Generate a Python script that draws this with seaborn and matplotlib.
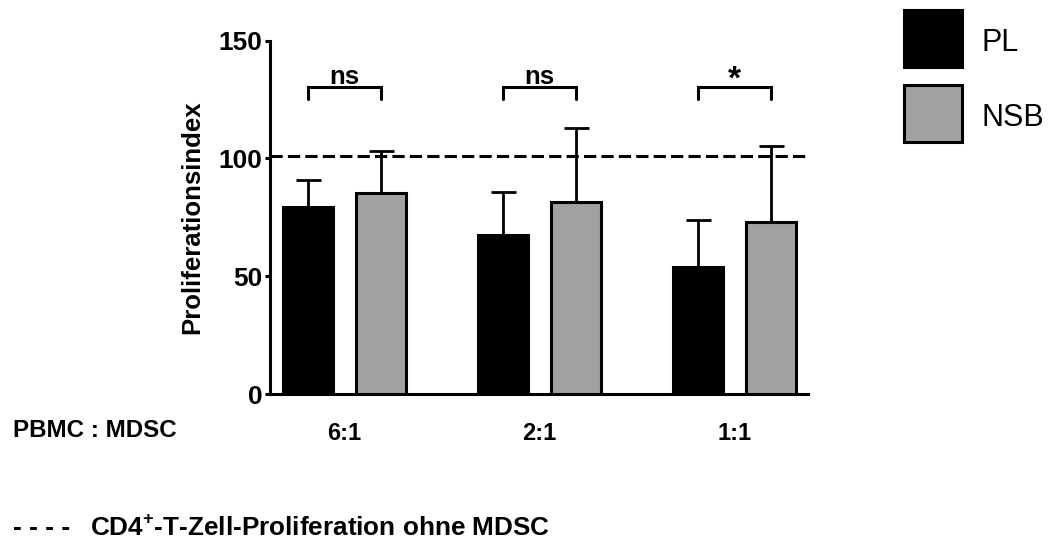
import matplotlib
matplotlib.use("Agg")
import matplotlib.pyplot as plt
from matplotlib.patches import Rectangle
import seaborn as sns
import pandas as pd

# Data
ratios = ["6:1", "2:1", "1:1"]
groups = ["PL", "NSB"]
pl_mean = [79.4, 67.4, 53.9]
pl_sd = [11.6, 18.3, 20.1]
nsb_mean = [85.3, 81.4, 73.2]
nsb_sd = [17.8, 31.6, 32.3]
significance = ["ns", "ns", "*"]
reference_level = 101.0
yticks = [0, 50, 100, 150]

colors = {"PL": "#000000", "NSB": "#a1a1a4"}

sns.set_style("white")
plt.rcParams["font.family"] = ["Liberation Sans", "DejaVu Sans"]
plt.rcParams["mathtext.fontset"] = "custom"
plt.rcParams["mathtext.rm"] = "Liberation Sans:bold"
plt.rcParams["mathtext.bf"] = "Liberation Sans:bold"
for key in ["text.color", "axes.labelcolor", "xtick.color", "ytick.color",
            "axes.edgecolor"]:
    plt.rcParams[key] = "black"

df = pd.DataFrame({
    "ratio": ratios * 2,
    "group": ["PL"] * 3 + ["NSB"] * 3,
    "value": pl_mean + nsb_mean,
})
sds = {"PL": pl_sd, "NSB": nsb_sd}
means = {"PL": pl_mean, "NSB": nsb_mean}

W, H = 1055, 547
fig = plt.figure(figsize=(W / 100, H / 100), dpi=100)
ax = fig.add_axes([270 / W, 1 - 394 / H, 538 / W, (394 - 40.7) / H])

sns.barplot(data=df, x="ratio", y="value", hue="group", order=ratios,
            hue_order=groups, palette=colors, width=0.753, gap=0.32,
            edgecolor="black", linewidth=2.2, errorbar=None, legend=False,
            ax=ax, zorder=3)

# upper-only SD bars, placed on the drawn bars
centers = {}
for g, cont in zip(groups, ax.containers):
    xs = [p.get_x() + p.get_width() / 2 for p in cont.patches]
    centers[g] = xs
    ax.errorbar(xs, means[g], yerr=[[0] * len(xs), sds[g]], fmt="none",
                ecolor="black", elinewidth=2.0, capsize=9, capthick=2.0,
                zorder=2)

# reference level without MDSC
ax.axhline(reference_level, color="black", lw=2.2,
           linestyle=(0, (4.0, 1.7)), zorder=4)

# significance brackets
top, leg = 130.2, 125.3
for i, lab in enumerate(significance):
    x0, x1 = centers["PL"][i], centers["NSB"][i]
    ax.plot([x0, x0, x1, x1], [leg, top, top, leg], color="black",
            lw=2.2, solid_joinstyle="miter", clip_on=False)
    if lab == "ns":
        ax.text((x0 + x1) / 2, top + 1.4, lab, ha="center", va="baseline",
                fontsize=18.5, fontweight="bold")
    else:
        ax.text((x0 + x1) / 2, 129.8, lab, ha="center", va="baseline",
                fontsize=24, fontweight="bold")

ax.set_xlim(-0.382, 2.376)
ax.set_ylim(0, 150)
ax.set_yticks(yticks)
ax.set_xlabel("")
ax.set_ylabel("")
sns.despine(ax=ax)
for s in ["left", "bottom"]:
    ax.spines[s].set_linewidth(2.2)
ax.tick_params(axis="y", length=3.6, width=2.2, pad=2, labelsize=19,
               left=True)
ax.tick_params(axis="x", length=0, pad=20, labelsize=17)
for t in ax.get_yticklabels() + ax.get_xticklabels():
    t.set_fontweight("bold")

fig.text(192 / W, 1 - 217 / H, "Proliferationsindex", rotation=90,
         ha="center", va="center", fontsize=18.5, fontweight="bold")
fig.text(13 / W, 1 - 437 / H, "PBMC : MDSC", ha="left", va="baseline",
         fontsize=17.4, fontweight="bold")
fig.text(13 / W, 1 - 535 / H, "- - - -", ha="left", va="baseline",
         fontsize=19, fontweight="bold")
fig.text(90 / W, 1 - 535 / H, r"CD4$^{+}$-T-Zell-Proliferation ohne MDSC",
         ha="left", va="baseline", fontsize=18.8, fontweight="bold")

# group key
key_boxes = [(10, 67), (85, 142)]
for g, (y0, y1) in zip(groups, key_boxes):
    fig.add_artist(Rectangle((904 / W, 1 - y1 / H), 58 / W, (y1 - y0) / H,
                             transform=fig.transFigure,
                             facecolor=colors[g], edgecolor="black",
                             linewidth=2.2))
    fig.text(981 / W, 1 - ((y0 + y1) / 2 + 1) / H, g, ha="left",
             va="center_baseline", fontsize=22)

fig.savefig("out.png", dpi=100)
